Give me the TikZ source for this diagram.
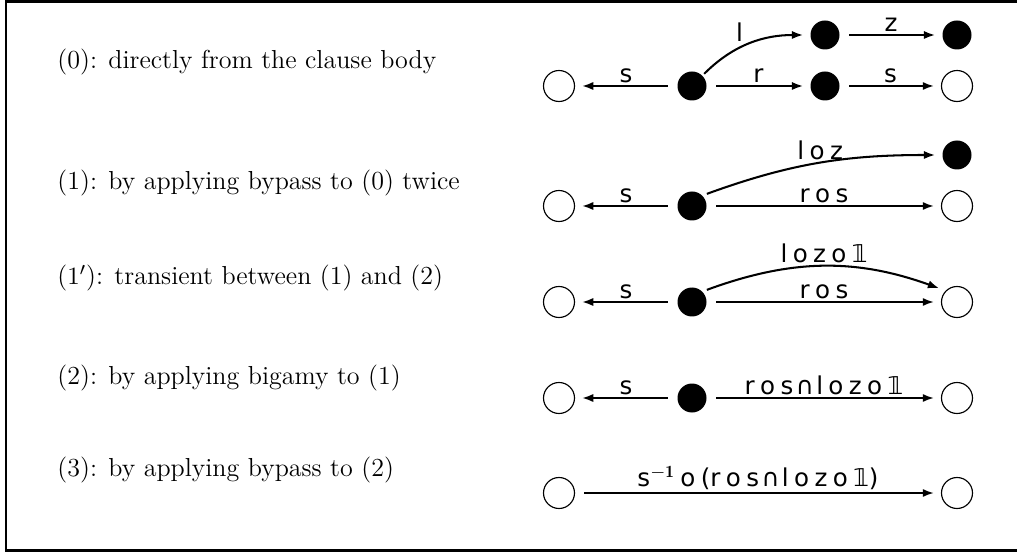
\documentclass[tikz,border=0pt]{standalone}
\usepackage{fontspec}
\newfontfamily\lblfont{DejaVu Sans}
\usetikzlibrary{arrows.meta}
\tikzset{
  open/.style={circle,draw,line width=0.5pt,minimum size=31*0.44pt,inner sep=0pt},
  full/.style={circle,fill=black,minimum size=29*0.44pt,inner sep=0pt},
  edge/.style={line width=0.9pt,-{Latex[length=5pt,width=3.6pt]},shorten >=3pt,shorten <=4pt},
  lbl/.style={font=\lblfont\fontsize{10.8}{12}\selectfont,inner sep=1pt},
  desc/.style={anchor=west,inner sep=0pt,font=\fontsize{11.45}{14}\selectfont}
}
\newcommand{\one}{{\lblfont 𝟙}}
\newcommand{\lsp}{\hspace{0.22em}}
\newcommand{\capp}{\hspace{0.1em}∩\hspace{0.1em}}
\begin{document}
\begin{tikzpicture}[x=0.44pt,y=-0.44pt]
\useasboundingbox (0,0) rectangle (1017,553);
\draw[line width=1.1pt] (1017,1.5) -- (6,1.5) -- (6,550.5) -- (1017,550.5);
% descriptions
\node[desc] (d0) at (57,62) {(0): directly from the clause body};
\node[desc] (d1) at (57,183) {(1): by applying bypass to (0) twice};
\node[desc] (d1p) at (57,278) {($1'$): transient between (1) and (2)};
\node[desc] (d2) at (57,378) {(2): by applying bigamy to (1)};
\node[desc] (d3) at (57,470) {(3): by applying bypass to (2)};
% row 0
\node[open] (a0) at (559,86) {};
\node[full] (b0) at (692,86) {};
\node[full] (c0) at (825,86) {};
\node[open] (e0) at (957,86) {};
\node[full] (f0) at (825,35) {};
\node[full] (g0) at (957,35) {};
\draw[edge] (b0) -- node[lbl,above] {s} (a0);
\draw[edge] (b0) -- node[lbl,above] {r} (c0);
\draw[edge] (c0) -- node[lbl,above] {s} (e0);
\draw[edge] (f0) -- node[lbl,above] {z} (g0);
\draw[edge,shorten <=1pt] (b0.north east) to[out=45,in=180] node[lbl,above left,pos=0.45] {l} (f0);
% row 1
\node[open] (a1) at (559,206) {};
\node[full] (b1) at (692,206) {};
\node[open] (e1) at (957,206) {};
\node[full] (g1) at (957,155) {};
\draw[edge] (b1) -- node[lbl,above] {r\lsp o\lsp s} (e1);
\draw[edge] (b1) -- node[lbl,above] {s} (a1);
\draw[edge,shorten <=2pt] (b1.north east) to[out=20,in=180] node[lbl,above,pos=0.5] {l\lsp o\lsp z} (g1);
% row 2
\node[open] (a2) at (559,302) {};
\node[full] (b2) at (692,302) {};
\node[open] (e2) at (957,302) {};
\draw[edge] (b2) -- node[lbl,above] {s} (a2);
\draw[edge] (b2) -- node[lbl,above] {r\lsp o\lsp s} (e2);
\draw[edge,shorten <=2pt] (b2.north east) to[bend left=20] node[lbl,above] {l\lsp o\lsp z\lsp o\lsp\one} (e2.north west);
% row 3
\node[open] (a3) at (559,398) {};
\node[full] (b3) at (692,398) {};
\node[open] (e3) at (957,398) {};
\draw[edge] (b3) -- node[lbl,above] {s} (a3);
\draw[edge] (b3) -- node[lbl,above] {r\lsp o\lsp s\capp l\lsp o\lsp z\lsp o\lsp\one} (e3);
% row 4
\node[open] (a4) at (559,493) {};
\node[open] (e4) at (957,493) {};
\draw[edge] (a4) -- node[lbl,above] {s$^{\mathbf{-1}}$\lsp o\lsp(r\lsp o\lsp s\capp l\lsp o\lsp z\lsp o\lsp\one)} (e4);
\end{tikzpicture}
\end{document}
